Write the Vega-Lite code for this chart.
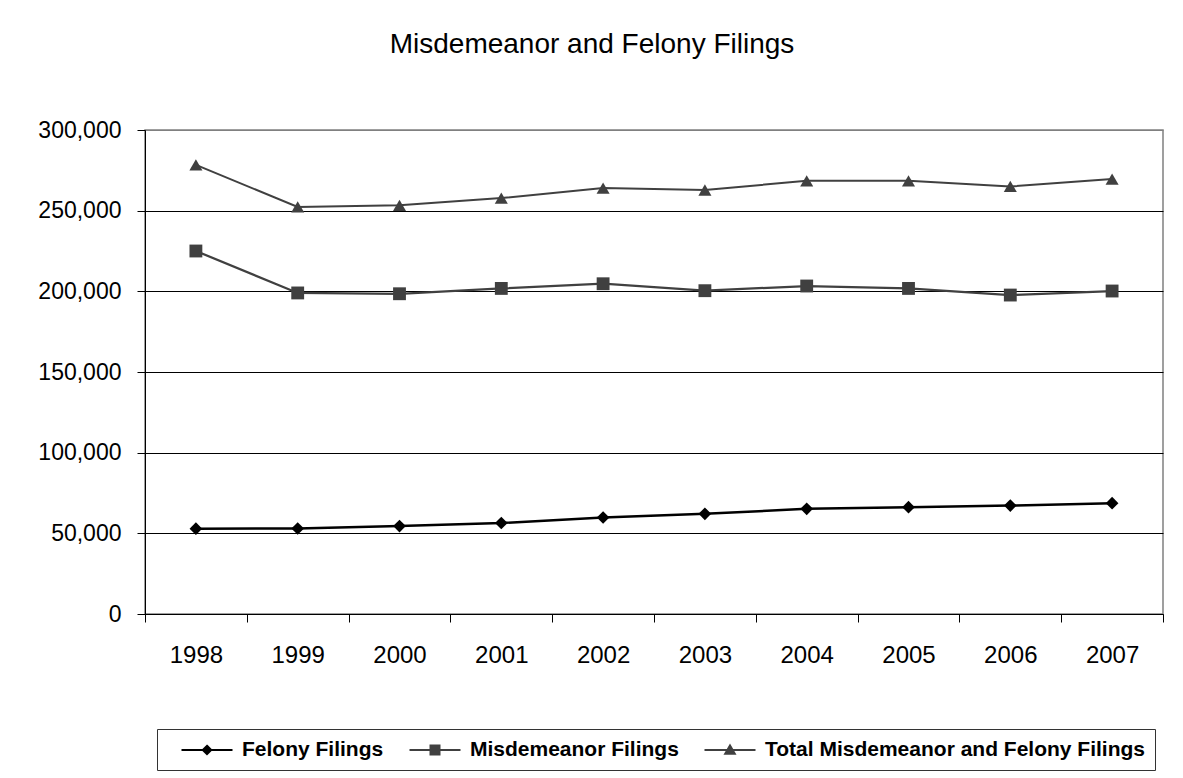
{
  "$schema": "https://vega.github.io/schema/vega-lite/v6.json",
  "width": 1018,
  "height": 484,
  "autosize": {"type": "none"},
  "padding": {"left": 145, "top": 130, "right": 20, "bottom": 164},
  "background": "white",
  "title": {
    "text": "Misdemeanor and Felony Filings",
    "font": "Liberation Sans",
    "fontSize": 28,
    "fontWeight": "normal",
    "color": "black",
    "anchor": "middle",
    "offset": 60,
    "dx": -62
  },
  "config": {
    "font": "Liberation Sans",
    "view": {"stroke": "#808080", "strokeWidth": 1.5}
  },
  "data": {
    "values": [
      {"year": "1998", "series": "Felony Filings", "value": 52900},
      {"year": "1999", "series": "Felony Filings", "value": 53000},
      {"year": "2000", "series": "Felony Filings", "value": 54500},
      {"year": "2001", "series": "Felony Filings", "value": 56400},
      {"year": "2002", "series": "Felony Filings", "value": 59800},
      {"year": "2003", "series": "Felony Filings", "value": 62100},
      {"year": "2004", "series": "Felony Filings", "value": 65200},
      {"year": "2005", "series": "Felony Filings", "value": 66200},
      {"year": "2006", "series": "Felony Filings", "value": 67200},
      {"year": "2007", "series": "Felony Filings", "value": 68700},
      {"year": "1998", "series": "Misdemeanor Filings", "value": 225000},
      {"year": "1999", "series": "Misdemeanor Filings", "value": 199000},
      {"year": "2000", "series": "Misdemeanor Filings", "value": 198500},
      {"year": "2001", "series": "Misdemeanor Filings", "value": 201800},
      {"year": "2002", "series": "Misdemeanor Filings", "value": 204700},
      {"year": "2003", "series": "Misdemeanor Filings", "value": 200400},
      {"year": "2004", "series": "Misdemeanor Filings", "value": 203300},
      {"year": "2005", "series": "Misdemeanor Filings", "value": 201800},
      {"year": "2006", "series": "Misdemeanor Filings", "value": 197700},
      {"year": "2007", "series": "Misdemeanor Filings", "value": 200200},
      {"year": "1998", "series": "Total Misdemeanor and Felony Filings", "value": 278400},
      {"year": "1999", "series": "Total Misdemeanor and Felony Filings", "value": 252300},
      {"year": "2000", "series": "Total Misdemeanor and Felony Filings", "value": 253300},
      {"year": "2001", "series": "Total Misdemeanor and Felony Filings", "value": 257800},
      {"year": "2002", "series": "Total Misdemeanor and Felony Filings", "value": 264000},
      {"year": "2003", "series": "Total Misdemeanor and Felony Filings", "value": 262800},
      {"year": "2004", "series": "Total Misdemeanor and Felony Filings", "value": 268500},
      {"year": "2005", "series": "Total Misdemeanor and Felony Filings", "value": 268500},
      {"year": "2006", "series": "Total Misdemeanor and Felony Filings", "value": 265000},
      {"year": "2007", "series": "Total Misdemeanor and Felony Filings", "value": 269600}
    ]
  },
  "encoding": {
    "x": {
      "field": "year",
      "type": "ordinal",
      "scale": {"type": "band", "paddingInner": 0, "paddingOuter": 0},
      "axis": {
        "title": null,
        "labelAngle": 0,
        "tickBand": "extent",
        "tickSize": 8,
        "tickColor": "black",
        "domainColor": "black",
        "labelFont": "Liberation Sans",
        "labelFontSize": 24,
        "labelColor": "black",
        "labelPadding": 21,
        "grid": false
      }
    },
    "y": {
      "field": "value",
      "type": "quantitative",
      "scale": {"domain": [0, 300000], "nice": false},
      "axis": {
        "title": null,
        "values": [0, 50000, 100000, 150000, 200000, 250000, 300000],
        "format": ",d",
        "tickSize": 8,
        "tickColor": "black",
        "domainColor": "black",
        "labelFont": "Liberation Sans",
        "labelFontSize": 23,
        "labelColor": "black",
        "labelPadding": 16,
        "grid": true,
        "gridOpacity": 1,
        "gridColor": {"condition": {"test": "datum.value >= 300000", "value": "#808080"}, "value": "black"}
      }
    }
  },
  "layer": [
    {
      "mark": {"type": "line"},
      "encoding": {
        "color": {
          "field": "series", "type": "nominal",
          "scale": {"domain": ["Felony Filings", "Misdemeanor Filings", "Total Misdemeanor and Felony Filings"], "range": ["#000000", "#404040", "#404040"]},
          "legend": null
        },
        "strokeWidth": {
          "field": "series", "type": "nominal",
          "scale": {"domain": ["Felony Filings", "Misdemeanor Filings", "Total Misdemeanor and Felony Filings"], "range": [2.5, 2, 2]},
          "legend": null
        }
      }
    },
    {
      "mark": {"type": "point", "filled": true, "opacity": 1},
      "encoding": {
        "color": {
          "field": "series", "type": "nominal",
          "scale": {"domain": ["Felony Filings", "Misdemeanor Filings", "Total Misdemeanor and Felony Filings"], "range": ["#000000", "#404040", "#404040"]},
          "legend": null
        },
        "shape": {
          "field": "series", "type": "nominal",
          "scale": {"domain": ["Felony Filings", "Misdemeanor Filings", "Total Misdemeanor and Felony Filings"], "range": ["diamond", "square", "triangle-up"]},
          "legend": null
        },
        "size": {
          "field": "series", "type": "nominal",
          "scale": {"domain": ["Felony Filings", "Misdemeanor Filings", "Total Misdemeanor and Felony Filings"], "range": [160, 170, 190]},
          "legend": null
        }
      }
    },
    {
      "transform": [{"filter": "datum.value < 0"}],
      "mark": {"type": "point", "filled": true, "opacity": 1, "strokeWidth": 2},
      "encoding": {
        "color": {
          "field": "series", "type": "nominal",
          "scale": {"domain": ["Felony Filings", "Misdemeanor Filings", "Total Misdemeanor and Felony Filings"], "range": ["#000000", "#404040", "#404040"]},
          "legend": {
            "orient": "none", "legendX": 12, "legendY": 599, "direction": "horizontal", "title": null,
            "symbolSize": 400, "labelOffset": 53, "columnPadding": 11, "padding": 10, "labelLimit": 600,
            "strokeColor": "#333333", "labelFont": "Liberation Sans", "labelFontSize": 21, "labelFontWeight": "bold",
            "labelColor": "black", "symbolStrokeWidth": 2, "symbolOpacity": 1,
            "encode": {"symbols": {"update": {
              "stroke": {"signal": "datum.value === 'Felony Filings' ? '#000000' : '#404040'"},
              "strokeWidth": {"value": 2}
            }}}
          }
        },
        "shape": {
          "field": "series", "type": "nominal",
          "scale": {
            "domain": ["Felony Filings", "Misdemeanor Filings", "Total Misdemeanor and Felony Filings"],
            "range": [
              "M0.35,0H5.45M2.9,-0.42L3.32,0L2.9,0.42L2.48,0Z",
              "M0.35,0H5.45M2.45,-0.45H3.35V0.45H2.45Z",
              "M0.35,0H5.45M2.9,-0.45L3.38,0.38H2.42Z"
            ]
          },
          "legend": {
            "orient": "none", "legendX": 12, "legendY": 599, "direction": "horizontal", "title": null,
            "symbolSize": 400, "labelOffset": 53, "columnPadding": 11, "padding": 10, "labelLimit": 600,
            "strokeColor": "#333333", "labelFont": "Liberation Sans", "labelFontSize": 21, "labelFontWeight": "bold",
            "labelColor": "black", "symbolStrokeWidth": 2, "symbolOpacity": 1,
            "encode": {"symbols": {"update": {
              "stroke": {"signal": "datum.value === 'Felony Filings' ? '#000000' : '#404040'"},
              "strokeWidth": {"value": 2}
            }}}
          }
        }
      }
    }
  ],
  "resolve": {"scale": {"color": "independent", "shape": "independent"}}
}
